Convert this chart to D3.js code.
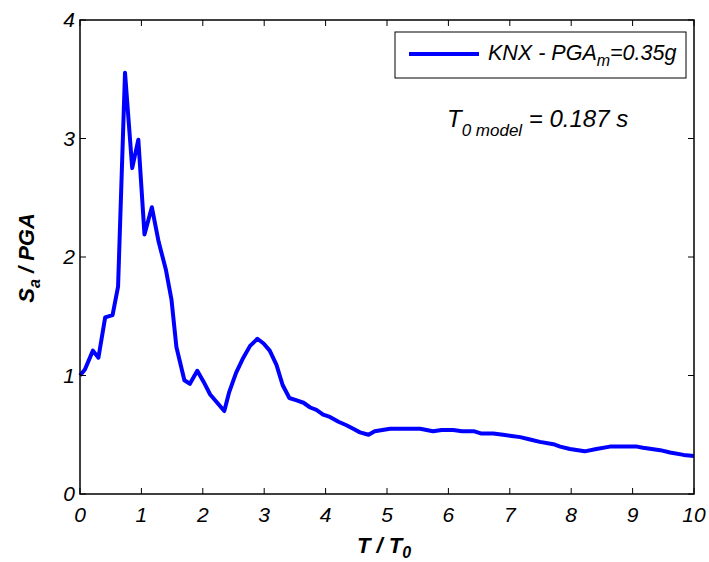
<!DOCTYPE html>
<html><head><meta charset="utf-8">
<script src="https://cdn.jsdelivr.net/npm/d3@7"></script>
<style>body{margin:0;background:#fff}svg{display:block}text{font-family:Arial,"Liberation Sans",sans-serif}</style>
</head><body>
<script>
const periodRatio = [0,0.08,0.21,0.30,0.41,0.53,0.62,0.733,0.85,0.95,1.05,1.17,1.28,1.40,1.49,1.57,1.70,1.79,1.91,2.01,2.12,2.35,2.43,2.54,2.66,2.77,2.89,2.99,3.09,3.20,3.30,3.41,3.53,3.64,3.75,3.85,3.96,4.07,4.21,4.34,4.45,4.56,4.70,4.80,5.05,5.54,5.75,5.89,6.08,6.22,6.41,6.54,6.73,6.89,7.03,7.17,7.33,7.49,7.71,7.82,7.98,8.22,8.41,8.63,9.07,9.17,9.31,9.45,9.61,9.83,10];
const saOverPGA = [1.0,1.05,1.21,1.15,1.49,1.51,1.75,3.555,2.75,2.99,2.19,2.42,2.13,1.89,1.64,1.24,0.96,0.93,1.04,0.95,0.84,0.70,0.86,1.02,1.15,1.25,1.31,1.27,1.21,1.09,0.92,0.81,0.79,0.77,0.73,0.71,0.67,0.65,0.61,0.58,0.55,0.52,0.50,0.53,0.55,0.55,0.53,0.54,0.54,0.53,0.53,0.51,0.51,0.50,0.49,0.48,0.46,0.44,0.42,0.40,0.38,0.36,0.38,0.40,0.40,0.39,0.38,0.37,0.35,0.33,0.32];
const xTicks = [0,1,2,3,4,5,6,7,8,9,10];
const yTicks = [0,1,2,3,4];

const W=709,H=562;
const L=80,R=694,T=20,B=494;
const svg=d3.select("body").append("svg").attr("width",W).attr("height",H);
const x=d3.scaleLinear().domain([0,10]).range([L,R]);
const y=d3.scaleLinear().domain([0,4]).range([B,T]);

// plot line
svg.append("path").datum(periodRatio.map((t,i)=>[t,saOverPGA[i]]))
  .attr("fill","none").attr("stroke","#0000ff").attr("stroke-width",4).attr("stroke-linejoin","round")
  .attr("d",d3.line().x(d=>x(d[0])).y(d=>y(d[1])));

const tl=6;
const g=svg.append("g").attr("stroke","#000").attr("stroke-width",1);
// frame
svg.append("rect").attr("x",L).attr("y",T).attr("width",R-L).attr("height",B-T).attr("fill","none").attr("stroke","#000").attr("stroke-width",1.5);
xTicks.forEach(v=>{
  g.append("line").attr("x1",x(v)).attr("x2",x(v)).attr("y1",B).attr("y2",B-tl);
  g.append("line").attr("x1",x(v)).attr("x2",x(v)).attr("y1",T).attr("y2",T+tl);
});
yTicks.forEach(v=>{
  g.append("line").attr("x1",L).attr("x2",L+tl).attr("y1",y(v)).attr("y2",y(v));
  g.append("line").attr("x1",R).attr("x2",R-tl).attr("y1",y(v)).attr("y2",y(v));
});
// tick labels
svg.append("g").selectAll("text").data(xTicks).join("text")
  .attr("x",d=>x(d)).attr("y",522).attr("text-anchor","middle")
  .attr("font-size",21).attr("font-style","italic").text(d=>d);
svg.append("g").selectAll("text").data(yTicks).join("text")
  .attr("x",75).attr("y",d=>y(d)+7).attr("text-anchor","end")
  .attr("font-size",21).attr("font-style","italic").text(d=>d);

// axis labels
const xl=svg.append("text").attr("x",384).attr("y",553).attr("text-anchor","middle")
  .attr("font-size",22).attr("font-weight","bold").attr("font-style","italic");
xl.append("tspan").text("T / T");
xl.append("tspan").attr("font-size",16).attr("dy",5).text("0");

const yl=svg.append("text").attr("transform","translate(34,258) rotate(-90)").attr("text-anchor","middle")
  .attr("font-size",22).attr("font-weight","bold").attr("font-style","italic");
yl.append("tspan").text("S");
yl.append("tspan").attr("font-size",16).attr("dy",6).text("a");
yl.append("tspan").attr("dy",-6).text(" / PGA");

// legend
svg.append("rect").attr("x",395).attr("y",32).attr("width",291).attr("height",46)
  .attr("fill","#fff").attr("stroke","#000").attr("stroke-width",1);
svg.append("line").attr("x1",409).attr("x2",479).attr("y1",54).attr("y2",54)
  .attr("stroke","#0000ff").attr("stroke-width",4);
const lt=svg.append("text").attr("x",488).attr("y",60).attr("font-size",21.5).attr("font-style","italic");
lt.append("tspan").text("KNX - PGA");
lt.append("tspan").attr("font-size",16).attr("dy",6).text("m");
lt.append("tspan").attr("dy",-6).text("=0.35g");

// annotation
const an=svg.append("text").attr("x",447).attr("y",127).attr("font-size",24).attr("font-style","italic");
an.append("tspan").text("T");
an.append("tspan").attr("font-size",17).attr("dy",9).text("0 model");
an.append("tspan").attr("dy",-9).text(" = 0.187 s");
</script>
</body></html>
